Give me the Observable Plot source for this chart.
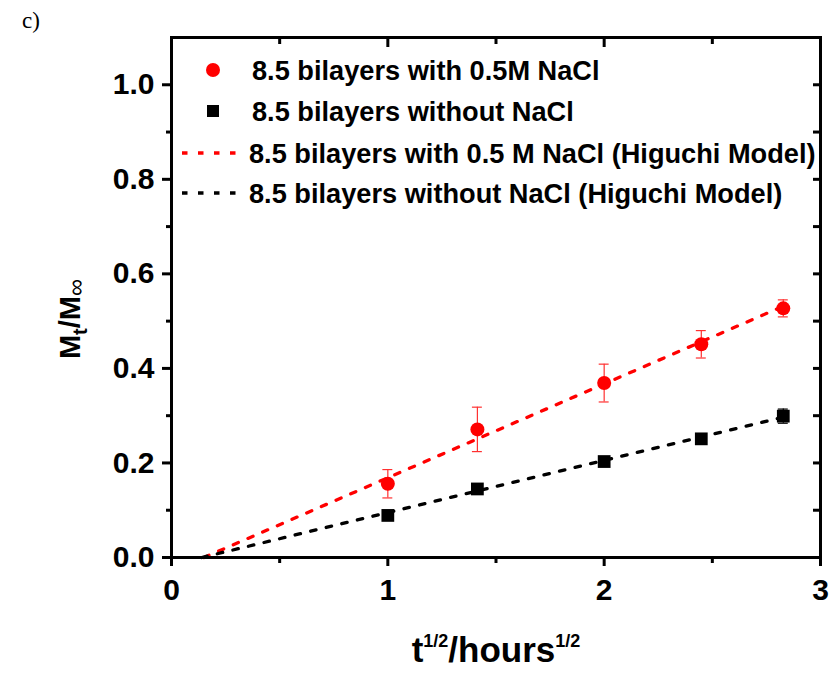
<!DOCTYPE html>
<html><head><meta charset="utf-8">
<script src="https://cdn.jsdelivr.net/npm/d3@7"></script>
<script src="https://cdn.jsdelivr.net/npm/@observablehq/plot@0.6"></script>
<style>body{margin:0;background:#fff} svg{display:block}</style>
</head><body><div id="chart"></div>
<script>
// t^(1/2) in hours^(1/2)
const sqrtHours = [1, 1.414, 2, 2.449, 2.828];
// 8.5 bilayers with 0.5M NaCl
const withNaCl = [0.156, 0.271, 0.369, 0.451, 0.527];
const withNaClErr = [0.030, 0.047, 0.040, 0.029, 0.018];
// 8.5 bilayers without NaCl
const withoutNaCl = [0.089, 0.145, 0.203, 0.251, 0.299];
const withoutNaClErr = [0.005, 0.005, 0.007, 0.010, 0.015];
// Higuchi model fit line end points
const fitWithX = [0.15, 2.83];
const fitWithY = [0.0, 0.532];
const fitWithoutX = [0.14, 2.82];
const fitWithoutY = [0.0, 0.296];
// ticks
const xMajor = [0, 1, 2, 3];
const xMinor = [0.5, 1.5, 2.5];
const yMajor = [0, 0.2, 0.4, 0.6, 0.8, 1.0];
const yMinor = [0.1, 0.3, 0.5, 0.7, 0.9];
const legendLabels = [
  "8.5 bilayers with 0.5M NaCl",
  "8.5 bilayers without NaCl",
  "8.5 bilayers with 0.5 M NaCl (Higuchi Model)",
  "8.5 bilayers without NaCl (Higuchi Model)"
];

const red = sqrtHours.map((x, i) => ({x, y: withNaCl[i], e: withNaClErr[i]}));
const blk = sqrtHours.map((x, i) => ({x, y: withoutNaCl[i], e: withoutNaClErr[i]}));
const fitRed = fitWithX.map((x, i) => ({x, y: fitWithY[i]}));
const fitBlk = fitWithoutX.map((x, i) => ({x, y: fitWithoutY[i]}));
const cap = 0.023;
const font = "'Liberation Sans', Arial, sans-serif";
const blank = () => "";
const dash = "5.5,10.5";

const chart = Plot.plot({
  width: 833, height: 677,
  marginLeft: 171, marginRight: 13, marginTop: 37, marginBottom: 120,
  x: {domain: [0, 3]},
  y: {domain: [0, 1.1]},
  style: {fontFamily: font, background: "white", color: "black"},
  marks: [
    Plot.line(fitRed, {x: "x", y: "y", stroke: "#ff0000", strokeWidth: 3.3, strokeDasharray: dash}),
    Plot.line(fitBlk, {x: "x", y: "y", stroke: "#000", strokeWidth: 3.3, strokeDasharray: dash}),
    Plot.ruleX(red, {x: "x", y1: d => d.y - d.e, y2: d => d.y + d.e, stroke: "#ff3030", strokeWidth: 1.2}),
    Plot.ruleY(red, {y: d => d.y - d.e, x1: d => d.x - cap, x2: d => d.x + cap, stroke: "#ff3030", strokeWidth: 1.2}),
    Plot.ruleY(red, {y: d => d.y + d.e, x1: d => d.x - cap, x2: d => d.x + cap, stroke: "#ff3030", strokeWidth: 1.2}),
    Plot.ruleX(blk, {x: "x", y1: d => d.y - d.e, y2: d => d.y + d.e, stroke: "#000", strokeWidth: 1.2}),
    Plot.ruleY(blk, {y: d => d.y - d.e, x1: d => d.x - cap, x2: d => d.x + cap, stroke: "#000", strokeWidth: 1.2}),
    Plot.ruleY(blk, {y: d => d.y + d.e, x1: d => d.x - cap, x2: d => d.x + cap, stroke: "#000", strokeWidth: 1.2}),
    Plot.dot(red, {x: "x", y: "y", r: 7, fill: "#ff0000", stroke: "none"}),
    Plot.dot(blk, {x: "x", y: "y", r: 7.2, symbol: "square", fill: "#000", stroke: "none"}),
    Plot.frame({strokeWidth: 3}),
    Plot.axisX({ticks: xMajor, tickSize: 9, tickPadding: 12, strokeWidth: 3, fontSize: 30, fontWeight: "bold", tickFormat: d3.format("d"), label: null}),
    Plot.axisX({ticks: xMinor, tickSize: 6, strokeWidth: 3, tickFormat: blank, label: null}),
    Plot.axisX({anchor: "top", ticks: xMajor, tickSize: -9, strokeWidth: 3, tickFormat: blank, label: null}),
    Plot.axisX({anchor: "top", ticks: xMinor, tickSize: -6, strokeWidth: 3, tickFormat: blank, label: null}),
    Plot.axisY({ticks: yMajor, tickSize: 9, tickPadding: 8, strokeWidth: 3, fontSize: 30, fontWeight: "bold", tickFormat: d3.format(".1f"), label: null}),
    Plot.axisY({ticks: yMinor, tickSize: 5, strokeWidth: 3, tickFormat: blank, label: null}),
    Plot.axisY({anchor: "right", ticks: yMajor.concat(yMinor), tickSize: -8, strokeWidth: 3, tickFormat: blank, label: null})
  ]
});
document.getElementById("chart").append(chart);

const svg = d3.select(chart);
// panel label
svg.append("text").attr("x", 22).attr("y", 28).attr("text-anchor", "start")
  .attr("font-family", "'Liberation Serif', 'Times New Roman', serif").attr("font-size", 23).text("c)");
// y label
const yl = svg.append("text").attr("transform", "translate(80,319) rotate(-90)").attr("text-anchor", "middle")
  .attr("font-family", font).attr("font-weight", "bold").attr("font-size", 29);
yl.append("tspan").text("M");
yl.append("tspan").attr("font-size", 20).attr("dy", 7).text("t");
yl.append("tspan").attr("dy", -7).text("/M");
yl.append("tspan").attr("font-size", 24).attr("font-weight", "normal").attr("dy", 4).text("∞");
// x label
const xl = svg.append("text").attr("x", 496).attr("y", 662).attr("text-anchor", "middle")
  .attr("font-family", font).attr("font-weight", "bold").attr("font-size", 35);
xl.append("tspan").text("t");
xl.append("tspan").attr("font-size", 18).attr("dy", -15).text("1/2");
xl.append("tspan").attr("dy", 15).text("/hours");
xl.append("tspan").attr("font-size", 18).attr("dy", -15).text("1/2");
// legend
const rowsY = [70, 111, 153, 193];
const lg = svg.append("g").attr("font-family", font).attr("font-weight", "bold").attr("font-size", 27.2)
  .attr("text-anchor", "start");
lg.append("circle").attr("cx", 213).attr("cy", rowsY[0]).attr("r", 7).attr("fill", "#ff0000");
lg.append("rect").attr("x", 207).attr("y", rowsY[1] - 6).attr("width", 12).attr("height", 12).attr("fill", "#000");
lg.append("line").attr("x1", 182).attr("x2", 238).attr("y1", rowsY[2]).attr("y2", rowsY[2])
  .attr("stroke", "#ff0000").attr("stroke-width", 3.3).attr("stroke-dasharray", dash);
lg.append("line").attr("x1", 182).attr("x2", 238).attr("y1", rowsY[3]).attr("y2", rowsY[3])
  .attr("stroke", "#000").attr("stroke-width", 3.3).attr("stroke-dasharray", dash);
legendLabels.forEach((t, i) => {
  lg.append("text").attr("x", i < 2 ? 252 : 249).attr("y", rowsY[i]).attr("dy", "0.36em").text(t);
});
</script>
</body></html>
